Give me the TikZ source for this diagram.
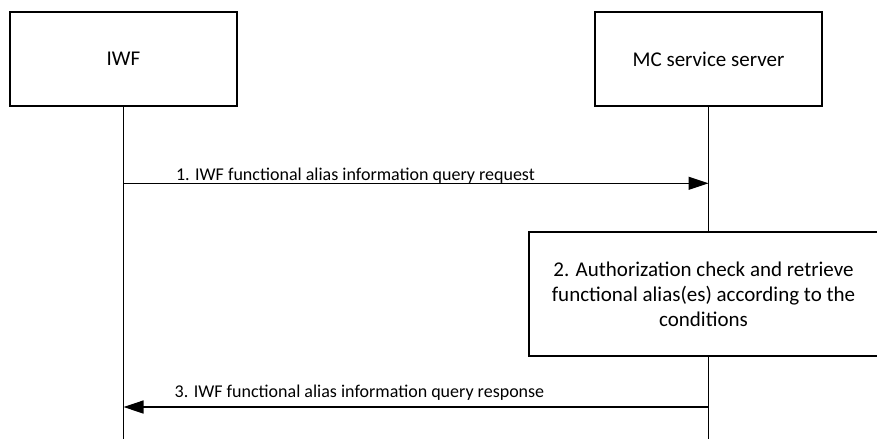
\documentclass[tikz,border=0pt]{standalone}
\usepackage{fontspec}
\setmainfont{Carlito}
\usetikzlibrary{arrows.meta}
\begin{document}
\begin{tikzpicture}[x=1pt,y=-1pt,
  actor/.style={draw,line width=1.3pt,minimum width=227pt,minimum height=94pt,inner sep=0pt,font=\fontsize{21}{25}\selectfont},
  procbox/.style={draw,line width=1.3pt,minimum width=349pt,minimum height=124pt,inner sep=0pt,align=center,font=\fontsize{21}{25}\selectfont},
  life/.style={line width=1.3pt},
  msg/.style={line width=1.3pt,-{Triangle[length=20pt,width=13pt]}},
  lbl/.style={inner sep=0pt,font=\fontsize{18}{21}\selectfont}]
\useasboundingbox (0,0) rectangle (877,439);
\node[actor] (iwf) at (123.5,59) {IWF};
\node[actor] (mc) at (708.5,59) {MC service server};
\node[procbox] (proc) at (703.5,294) {2. Authorization check and retrieve\\functional alias(es) according to the\\conditions};
\coordinate (iwfend) at (123.5,439);
\coordinate (mcend) at (708.5,439);
\coordinate (y1) at (0,183.3);
\coordinate (y3) at (0,407);
\draw[life] (iwf.south) -- (iwfend);
\draw[life] (mc.south) -- (mc.south |- proc.north);
\draw[life] (mc.south |- proc.south) -- (mcend);
\draw[msg] (iwf.south |- y1) -- (mc.south |- y1);
\draw[msg] (mc.south |- y3) -- (iwf.south |- y3);
\node[lbl,anchor=base] (l1) at (355.5,180.5) {1. IWF functional alias information query request};
\node[lbl,anchor=base] (l3) at (359.5,397.5) {3. IWF functional alias information query response};
\end{tikzpicture}
\end{document}
